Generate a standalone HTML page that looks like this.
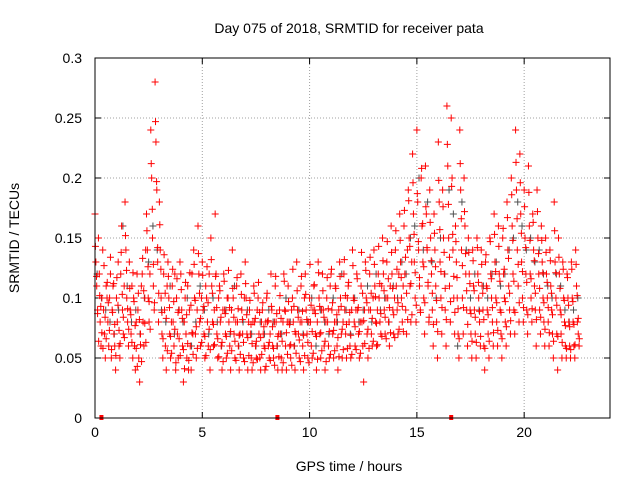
<!DOCTYPE html>
<html><head><meta charset="utf-8"><style>
body{margin:0;background:#fff;}
svg text{font-family:"Liberation Sans",sans-serif;font-size:14px;fill:#000;}
</style></head><body>
<svg id="chart" width="640" height="480" xmlns="http://www.w3.org/2000/svg">
<text x="349" y="33" text-anchor="middle">Day 075 of 2018, SRMTID for receiver pata</text>
<text x="349" y="471" text-anchor="middle">GPS time / hours</text>
<text transform="translate(19,238) rotate(-90)" text-anchor="middle">SRMTID / TECUs</text>
<g id="grid"></g>
<g id="ticks"></g>
<g id="gray"></g>
<g id="red"></g>
<rect x="95" y="58" width="515" height="360" fill="none" stroke="#000" stroke-width="1"/>
</svg>
<script>
const xTicks=[0,5,10,15,20];
const yTicks=[0,0.05,0.1,0.15,0.2,0.25,0.3];
const yTickLabels=["0","0.05","0.1","0.15","0.2","0.25","0.3"];
const startHour=0, stepHours=0.2;
const redVals=[
[.17,.13,.11,.09,.15],[.12,.08,.06,.10,.14],[.09,.07,.05,.11,.10],[.08,.06,.10,.12,.05],[.09,.11,.07,.06,.04],
[.10,.08,.13,.06,.05],[.12,.16,.09,.07,.11],[.18,.14,.10,.08,.06],[.13,.09,.07,.11,.05],[.10,.06,.04,.08,.12],
[.09,.05,.03,.07,.11],[.12,.08,.06,.10,.14],[.17,.14,.10,.08,.12],[.24,.20,.15,.11,.09],[.28,.23,.19,.13,.08],
[.18,.14,.10,.07,.05],[.12,.09,.06,.04,.11],[.13,.10,.07,.05,.08],[.11,.08,.06,.12,.04],[.10,.07,.05,.09,.13],
[.12,.09,.06,.03,.08],[.10,.07,.05,.11,.04],[.09,.06,.04,.12,.07],[.14,.10,.07,.05,.09],[.16,.12,.08,.06,.10],
[.13,.09,.07,.05,.11],[.10,.08,.06,.12,.04],[.15,.11,.08,.06,.09],[.17,.12,.07,.05,.10],[.11,.08,.06,.04,.09],
[.12,.09,.07,.05,.10],[.10,.08,.06,.04,.09],[.14,.10,.07,.05,.08],[.11,.08,.06,.04,.07],[.12,.09,.07,.05,.10],
[.13,.10,.07,.04,.08],[.09,.07,.05,.04,.08],[.11,.08,.06,.05,.09],[.10,.07,.05,.04,.08],[.09,.07,.06,.04,.08],
[.10,.08,.06,.05,.07],[.12,.09,.06,.05,.08],[.11,.08,.06,.04,.07],[.09,.07,.05,.04,.08],[.12,.09,.06,.04,.08],
[.11,.08,.06,.05,.09],[.10,.08,.06,.04,.07],[.13,.09,.07,.05,.08],[.11,.08,.06,.04,.10],[.12,.09,.07,.05,.08],
[.10,.08,.06,.05,.09],[.11,.09,.07,.04,.08],[.13,.10,.07,.05,.09],[.12,.09,.06,.04,.08],[.10,.08,.06,.05,.11],
[.12,.09,.07,.05,.08],[.11,.08,.06,.04,.09],[.13,.10,.07,.05,.08],[.12,.09,.07,.05,.10],[.11,.08,.06,.05,.09],
[.14,.10,.08,.06,.09],[.12,.09,.07,.05,.08],[.11,.08,.06,.03,.09],[.13,.10,.07,.05,.09],[.12,.09,.07,.06,.10],
[.14,.11,.08,.06,.09],[.12,.10,.08,.07,.11],[.15,.12,.09,.07,.10],[.13,.10,.08,.06,.11],[.16,.12,.09,.07,.10],
[.14,.11,.09,.07,.12],[.17,.13,.10,.08,.11],[.16,.12,.09,.07,.14],[.19,.15,.11,.08,.13],[.22,.17,.13,.10,.08],
[.24,.18,.14,.11,.09],[.20,.16,.13,.10,.07],[.21,.17,.14,.11,.08],[.19,.15,.12,.09,.06],[.17,.14,.11,.08,.05],
[.23,.18,.13,.10,.07],[.19,.15,.12,.09,.06],[.26,.21,.15,.11,.08],[.25,.20,.14,.10,.07],[.16,.13,.10,.07,.05],
[.24,.19,.14,.10,.07],[.20,.16,.12,.09,.06],[.15,.12,.09,.07,.05],[.14,.11,.09,.07,.05],[.15,.12,.10,.08,.06],
[.14,.11,.09,.06,.04],[.13,.11,.09,.07,.05],[.15,.12,.10,.08,.06],[.17,.13,.10,.08,.06],[.16,.12,.09,.07,.05],
[.15,.12,.10,.08,.06],[.18,.14,.11,.09,.07],[.20,.16,.12,.09,.07],[.24,.19,.14,.11,.08],[.22,.17,.13,.10,.08],
[.19,.15,.12,.09,.07],[.21,.16,.12,.10,.08],[.17,.14,.11,.09,.06],[.19,.15,.12,.09,.07],[.16,.13,.10,.08,.06],
[.15,.12,.10,.08,.06],[.14,.11,.09,.07,.05],[.18,.13,.10,.07,.04],[.15,.12,.09,.07,.05],[.13,.10,.08,.06,.05],
[.12,.10,.08,.06,.05],[.13,.10,.08,.06,.05],[.14,.11,.08,.07,.06]];
const redVals2=[
[.143,.118,.087,.064],[.102,.093,.071,.058],[.127,.084,.066,.113],[.096,.073,.134,.057],[.088,.112,.078,.052],
[.117,.094,.073,.062],[.138,.103,.084,.067],[.152,.123,.091,.074],[.108,.086,.063,.121],[.097,.077,.058,.043],
[.104,.082,.061,.047],[.133,.106,.079,.063],[.156,.126,.097,.074],[.212,.174,.128,.096],[.247,.197,.142,.104],
[.161,.124,.088,.066],[.136,.104,.083,.056],[.118,.092,.068,.054],[.124,.097,.074,.046],[.116,.088,.066,.052],
[.107,.083,.057,.041],[.113,.086,.062,.048],[.121,.094,.071,.053],[.128,.098,.076,.058],[.137,.104,.083,.063],
[.119,.093,.068,.052],[.126,.096,.074,.057],[.132,.104,.078,.061],[.118,.092,.066,.051],[.106,.084,.063,.047],
[.114,.087,.068,.054],[.123,.092,.072,.056],[.108,.084,.064,.048],[.117,.091,.069,.053],[.103,.082,.063,.047],
[.112,.086,.067,.052],[.098,.078,.062,.046],[.104,.083,.064,.049],[.113,.088,.067,.053],[.096,.076,.058,.043],
[.104,.081,.063,.048],[.093,.076,.058,.044],[.118,.087,.068,.051],[.102,.083,.064,.046],[.114,.089,.071,.053],
[.097,.078,.061,.044],[.124,.093,.072,.054],[.106,.084,.065,.047],[.118,.089,.069,.052],[.103,.082,.063,.046],
[.128,.094,.072,.054],[.111,.087,.068,.049],[.121,.093,.071,.056],[.106,.084,.064,.047],[.117,.091,.072,.053],
[.124,.096,.073,.056],[.108,.086,.067,.051],[.118,.093,.074,.057],[.132,.102,.078,.058],[.113,.088,.069,.053],
[.127,.098,.076,.057],[.116,.092,.072,.054],[.138,.104,.081,.062],[.123,.096,.074,.058],[.134,.104,.083,.064],
[.128,.101,.079,.061],[.143,.112,.087,.068],[.131,.106,.084,.066],[.147,.116,.092,.071],[.138,.108,.086,.067],
[.156,.124,.096,.074],[.148,.117,.093,.072],[.173,.134,.104,.082],[.181,.143,.112,.086],[.196,.153,.121,.094],
[.187,.147,.117,.088],[.208,.162,.126,.096],[.176,.142,.113,.084],[.163,.131,.104,.078],[.154,.126,.098,.072],
[.198,.157,.122,.092],[.176,.138,.108,.082],[.228,.178,.134,.097],[.193,.153,.118,.088],[.147,.117,.091,.066],
[.212,.166,.127,.092],[.172,.137,.106,.078],[.138,.112,.087,.064],[.131,.106,.084,.063],[.142,.113,.089,.068],
[.128,.104,.082,.058],[.136,.108,.086,.064],[.147,.116,.092,.071],[.153,.122,.096,.073],[.143,.114,.088,.066],
[.158,.124,.097,.076],[.167,.133,.104,.081],[.186,.148,.114,.088],[.213,.166,.128,.096],[.196,.154,.122,.092],
[.176,.142,.113,.086],[.188,.148,.116,.091],[.163,.131,.104,.082],[.172,.137,.108,.084],[.148,.121,.096,.074],
[.138,.113,.092,.071],[.131,.104,.086,.064],[.156,.121,.094,.068],[.134,.108,.086,.063],[.124,.098,.077,.058],
[.117,.094,.076,.057],[.124,.097,.078,.061],[.128,.102,.083,.066]];
const grayVals=[.12,.10,.09,.08,.07,.09,.16,.11,.08,.09,.07,.10,.13,.16,.14,.09,.08,.11,.07,.09,
.08,.10,.06,.08,.11,.09,.07,.10,.08,.06,.09,.07,.11,.06,.08,.09,.07,.06,.08,.07,
.09,.08,.06,.07,.10,.08,.06,.09,.07,.08,.10,.06,.09,.08,.07,.10,.08,.12,.09,.07,
.10,.08,.09,.11,.08,.12,.09,.10,.08,.11,.10,.13,.12,.15,.16,.20,.14,.18,.13,.10,
.15,.12,.19,.17,.06,.18,.14,.10,.12,.09,.11,.10,.12,.13,.11,.12,.14,.15,.18,.16,
.14,.15,.13,.14,.12,.11,.10,.12,.11,.09,.08,.09,.10];
const xMarks=[0.3,8.5,16.6];
const NS="http://www.w3.org/2000/svg";
const X=h=>95+(h/24)*515, Y=v=>418-(v/0.3)*360;
function mk(tag,attrs,parent){const e=document.createElementNS(NS,tag);for(const k in attrs)e.setAttribute(k,attrs[k]);document.getElementById(parent).appendChild(e);return e;}
xTicks.forEach(t=>{
 const g=mk('line',{x1:X(t),x2:X(t),y1:58,y2:418,stroke:'#a0a0a0','stroke-dasharray':'1,2'},'grid');
 
 
 const tk=mk('path',{d:`M${X(t)},418v-6M${X(t)},58v6`,stroke:'#000'},'ticks');
 
 
 const tx=mk('text',{x:X(t),y:437,'text-anchor':'middle'},'ticks');tx.textContent=t;
 
 
});
yTicks.forEach((v,i)=>{
 const g=mk('line',{x1:95,x2:610,y1:Y(v),y2:Y(v),stroke:'#a0a0a0','stroke-dasharray':'1,2'},'grid');
 
 
 const tk=mk('path',{d:`M95,${Y(v)}h6M610,${Y(v)}h-6`,stroke:'#000'},'ticks');
 
 
 const tx=mk('text',{x:82,y:Y(v)+5,'text-anchor':'end'},'ticks');tx.textContent=yTickLabels[i];
 
 
});
function plus(h,v,color,parent,name){
 const p=mk('path',{d:`M${X(h)-3.5},${Y(v)}h7M${X(h)},${Y(v)-3.5}v7`,stroke:color,'stroke-width':1},parent);
 
 
}
grayVals.forEach((v,i)=>plus(startHour+i*stepHours+0.1,v,'#505050','gray','gray-point'));
redVals.forEach((row,i)=>row.forEach((v,k)=>plus(startHour+i*stepHours+k*0.04,v,'#ff0000','red','red-point')));
redVals2.forEach((row,i)=>row.forEach((v,k)=>plus(startHour+i*stepHours+0.02+k*0.05,v,'#ff0000','red','red-point')));
xMarks.forEach(h=>{
 const r=mk('rect',{x:X(h)-2,y:415,width:4,height:5,fill:'#ff0000'},'red');
 
 
});
</script>
</body></html>
